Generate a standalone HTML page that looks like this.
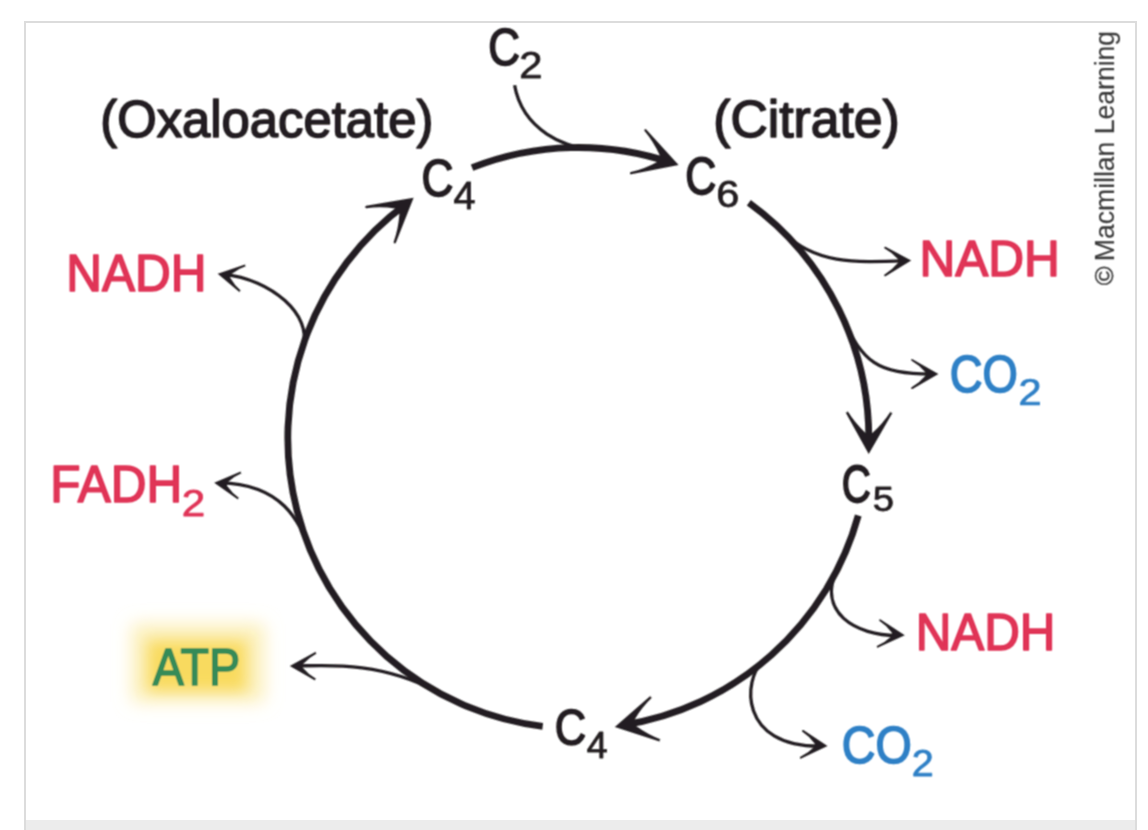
<!DOCTYPE html>
<html><head><meta charset="utf-8"><style>
html,body{margin:0;padding:0;background:#fff;width:1148px;height:830px;overflow:hidden}
svg{display:block;font-family:"Liberation Sans",sans-serif}
</style></head><body>
<svg width="1148" height="830" viewBox="0 0 1148 830">
<defs>
<filter id="glow" x="-50%" y="-50%" width="200%" height="200%"><feGaussianBlur stdDeviation="9"/></filter>
<filter id="glow2" x="-50%" y="-50%" width="200%" height="200%"><feGaussianBlur stdDeviation="7"/></filter>
<filter id="soft" x="0" y="0" width="1148" height="830" filterUnits="userSpaceOnUse"><feConvolveMatrix order="3" kernelMatrix="1 2 1 2 4 2 1 2 1" divisor="16" edgeMode="none"/></filter>
</defs>
<rect x="0" y="0" width="1148" height="830" fill="#fff"/>
<rect x="25" y="22" width="1111" height="820" fill="#fff" stroke="#dcdcdc" stroke-width="2"/>
<rect x="26" y="820" width="1109" height="10" fill="#ececec"/>
<g filter="url(#soft)">
<rect x="132" y="624" width="132" height="78" fill="#fcefb8" filter="url(#glow)"/>
<rect x="148" y="641" width="98" height="50" fill="#f8d64a" opacity="0.8" filter="url(#glow2)"/>
<path d="M472.05 167.63 A290.5 290.5 0 0 1 670.67 162.58" fill="none" stroke="#231f20" stroke-width="6.8" stroke-linecap="butt"/>
<path d="M678.60 165.00 L646.23 129.41 A1.15 1.15 0 0 0 644.57 130.99 Q653.59 141.72 659.72 155.20 L657.59 161.66 Q644.54 168.84 630.80 172.07 A1.15 1.15 0 0 0 631.20 174.33 Z" fill="#231f20"/>
<path d="M748.85 202.83 A290.5 290.5 0 0 1 868.69 445.99" fill="none" stroke="#231f20" stroke-width="6.8" stroke-linecap="butt"/>
<path d="M868.70 454.00 L845.38 411.93 A1.15 1.15 0 0 0 847.42 410.87 Q854.69 422.85 865.50 432.97 L872.30 433.03 Q883.30 423.05 890.79 411.15 A1.15 1.15 0 0 0 892.81 412.25 Z" fill="#231f20"/>
<path d="M858.27 515.52 A290.5 290.5 0 0 1 622.63 725.10" fill="none" stroke="#231f20" stroke-width="6.8" stroke-linecap="butt"/>
<path d="M614.80 726.90 L650.87 695.51 A1.15 1.15 0 0 0 652.33 697.29 Q642.24 706.79 634.70 719.38 L636.06 726.05 Q647.92 734.69 660.93 739.50 A1.15 1.15 0 0 0 660.27 741.70 Z" fill="#231f20"/>
<path d="M542.70 726.31 A290.5 290.5 0 0 1 407.49 203.03" fill="none" stroke="#231f20" stroke-width="6.8" stroke-linecap="butt"/>
<path d="M413.60 197.80 L366.18 205.87 A1.15 1.15 0 0 0 366.62 208.13 Q380.50 206.30 395.16 208.40 L399.44 213.68 Q398.43 228.49 393.74 241.75 A1.15 1.15 0 0 0 395.86 242.65 Z" fill="#231f20"/>
<path d="M783.80 232.67 C814.90 263.80 853.25 262.73 905.20 260.64" fill="none" stroke="#231f20" stroke-width="3.3"/><path d="M911.20 260.40 L885.52 246.75 A0.95 0.95 0 0 0 884.68 248.45 Q892.12 252.43 898.14 259.27 L898.28 262.57 Q892.25 269.91 884.63 274.47 A0.95 0.95 0 0 0 885.57 276.13 Z" fill="#231f20"/>
<path d="M842.80 317.87 C862.65 361.57 876.40 374.12 932.40 374.01" fill="none" stroke="#231f20" stroke-width="3.3"/><path d="M938.40 374.00 L912.55 359.16 A0.95 0.95 0 0 0 911.65 360.84 Q919.28 365.19 925.40 372.37 L925.40 375.67 Q919.28 382.88 911.65 387.26 A0.95 0.95 0 0 0 912.55 388.94 Z" fill="#231f20"/>
<path d="M837.74 568.69 C816.15 611.56 854.81 636.10 898.80 635.40" fill="none" stroke="#231f20" stroke-width="3.3"/><path d="M904.80 635.30 L880.60 619.39 A0.95 0.95 0 0 0 879.60 621.01 Q886.61 625.50 891.95 632.73 L891.72 636.02 Q885.14 642.40 877.33 645.82 A0.95 0.95 0 0 0 878.07 647.58 Z" fill="#231f20"/>
<path d="M762.35 662.76 C743.78 677.96 737.51 747.65 821.50 746.20" fill="none" stroke="#231f20" stroke-width="3.3"/><path d="M827.50 746.10 L803.40 730.09 A0.95 0.95 0 0 0 802.40 731.71 Q809.37 736.26 814.65 743.54 L814.42 746.84 Q808.06 753.30 800.42 756.83 A0.95 0.95 0 0 0 801.18 758.57 Z" fill="#231f20"/>
<path d="M437.44 692.06 C377.97 659.09 315.80 666.15 295.80 665.96" fill="none" stroke="#231f20" stroke-width="3.3"/><path d="M289.80 665.90 L316.17 651.55 A0.95 0.95 0 0 0 317.03 653.25 Q309.20 657.38 302.82 664.37 L302.78 667.67 Q308.81 674.78 316.35 679.06 A0.95 0.95 0 0 0 315.45 680.74 Z" fill="#231f20"/>
<path d="M309.81 548.93 C299.12 523.05 284.18 484.23 220.20 482.83" fill="none" stroke="#231f20" stroke-width="3.3"/><path d="M214.20 482.70 L241.26 471.21 A0.95 0.95 0 0 0 241.94 472.99 Q234.05 476.24 227.30 482.48 L226.94 485.76 Q232.25 493.32 239.32 498.21 A0.95 0.95 0 0 0 238.28 499.79 Z" fill="#231f20"/>
<path d="M302.70 346.17 C312.81 315.81 271.45 278.91 223.67 274.28" fill="none" stroke="#231f20" stroke-width="3.3"/><path d="M217.70 273.70 L245.73 264.29 A0.95 0.95 0 0 0 246.27 266.11 Q238.07 268.75 230.78 274.45 L230.18 277.70 Q234.64 285.58 241.09 290.95 A0.95 0.95 0 0 0 239.91 292.45 Z" fill="#231f20"/>
<path d="M514.60 85.30 C522.94 132.57 569.99 147.37 581.99 147.52" fill="none" stroke="#231f20" stroke-width="3.3"/>
<text transform="matrix(0.25400 0 0 0.26310 100.25 136.65)" font-size="200" fill="#231f20" stroke="#231f20" stroke-width="6.19" stroke-linejoin="round">(Oxaloacetate)</text>
<text transform="matrix(0.25845 0 0 0.26043 713.20 136.76)" font-size="200" fill="#231f20" stroke="#231f20" stroke-width="6.17" stroke-linejoin="round">(Citrate)</text>
<text transform="matrix(0.21984 0 0 0.25634 488.30 64.89)" font-size="200" fill="#231f20" stroke="#231f20" stroke-width="6.74" stroke-linejoin="round">C</text>
<text transform="matrix(0.20879 0 0 0.18357 519.31 77.90)" font-size="200" fill="#231f20" stroke="#231f20" stroke-width="4.09" stroke-linejoin="round">2</text>
<text transform="matrix(0.22143 0 0 0.26056 421.39 196.28)" font-size="200" fill="#231f20" stroke="#231f20" stroke-width="6.66" stroke-linejoin="round">C</text>
<text transform="matrix(0.19800 0 0 0.19058 453.41 209.20)" font-size="200" fill="#231f20" stroke="#231f20" stroke-width="4.12" stroke-linejoin="round">4</text>
<text transform="matrix(0.21508 0 0 0.25775 685.35 194.18)" font-size="200" fill="#231f20" stroke="#231f20" stroke-width="6.80" stroke-linejoin="round">C</text>
<text transform="matrix(0.20761 0 0 0.18592 716.32 207.23)" font-size="200" fill="#231f20" stroke="#231f20" stroke-width="4.07" stroke-linejoin="round">6</text>
<text transform="matrix(0.24775 0 0 0.25362 919.54 276.00)" font-size="200" fill="#e03457" stroke="#e03457" stroke-width="6.38" stroke-linejoin="round">NADH</text>
<text transform="matrix(0.22679 0 0 0.25704 949.73 391.79)" font-size="200" fill="#2f80c6" stroke="#2f80c6" stroke-width="6.63" stroke-linejoin="round">CO</text>
<text transform="matrix(0.20769 0 0 0.18071 1018.62 404.80)" font-size="200" fill="#2f80c6" stroke="#2f80c6" stroke-width="4.13" stroke-linejoin="round">2</text>
<text transform="matrix(0.20159 0 0 0.25915 841.78 501.68)" font-size="200" fill="#231f20" stroke="#231f20" stroke-width="7.00" stroke-linejoin="round">C</text>
<text transform="matrix(0.19158 0 0 0.17286 872.87 511.25)" font-size="200" fill="#231f20" stroke="#231f20" stroke-width="4.40" stroke-linejoin="round">5</text>
<text transform="matrix(0.24663 0 0 0.26087 915.65 649.70)" font-size="200" fill="#e03457" stroke="#e03457" stroke-width="6.31" stroke-linejoin="round">NADH</text>
<text transform="matrix(0.23321 0 0 0.26127 841.87 763.08)" font-size="200" fill="#2f80c6" stroke="#2f80c6" stroke-width="6.48" stroke-linejoin="round">CO</text>
<text transform="matrix(0.19780 0 0 0.18857 911.82 775.50)" font-size="200" fill="#2f80c6" stroke="#2f80c6" stroke-width="4.14" stroke-linejoin="round">2</text>
<text transform="matrix(0.21746 0 0 0.25352 554.73 745.29)" font-size="200" fill="#231f20" stroke="#231f20" stroke-width="6.81" stroke-linejoin="round">C</text>
<text transform="matrix(0.18800 0 0 0.18188 586.86 758.00)" font-size="200" fill="#231f20" stroke="#231f20" stroke-width="4.33" stroke-linejoin="round">4</text>
<text transform="matrix(0.23306 0 0 0.26014 152.87 684.60)" font-size="200" fill="#358b58" stroke="#358b58" stroke-width="6.50" stroke-linejoin="round">ATP</text>
<text transform="matrix(0.24750 0 0 0.25870 50.24 501.60)" font-size="200" fill="#e03457" stroke="#e03457" stroke-width="6.32" stroke-linejoin="round">FADH</text>
<text transform="matrix(0.21099 0 0 0.18643 181.69 515.50)" font-size="200" fill="#e03457" stroke="#e03457" stroke-width="4.03" stroke-linejoin="round">2</text>
<text transform="matrix(0.24738 0 0 0.25725 66.34 290.90)" font-size="200" fill="#e03457" stroke="#e03457" stroke-width="6.34" stroke-linejoin="round">NADH</text>
<text transform="matrix(0 -0.13284 0.13560 0 1114.00 261.13)" font-size="200" fill="#3a3a3a" stroke="#3a3a3a" stroke-width="1.0">Macmillan Learning</text>
<text transform="matrix(0 -0.12766 0.12766 0 1113.31 285.28)" font-size="200" fill="#3a3a3a" stroke="#3a3a3a" stroke-width="3.13">©</text>
</g>
</svg>
</body></html>
